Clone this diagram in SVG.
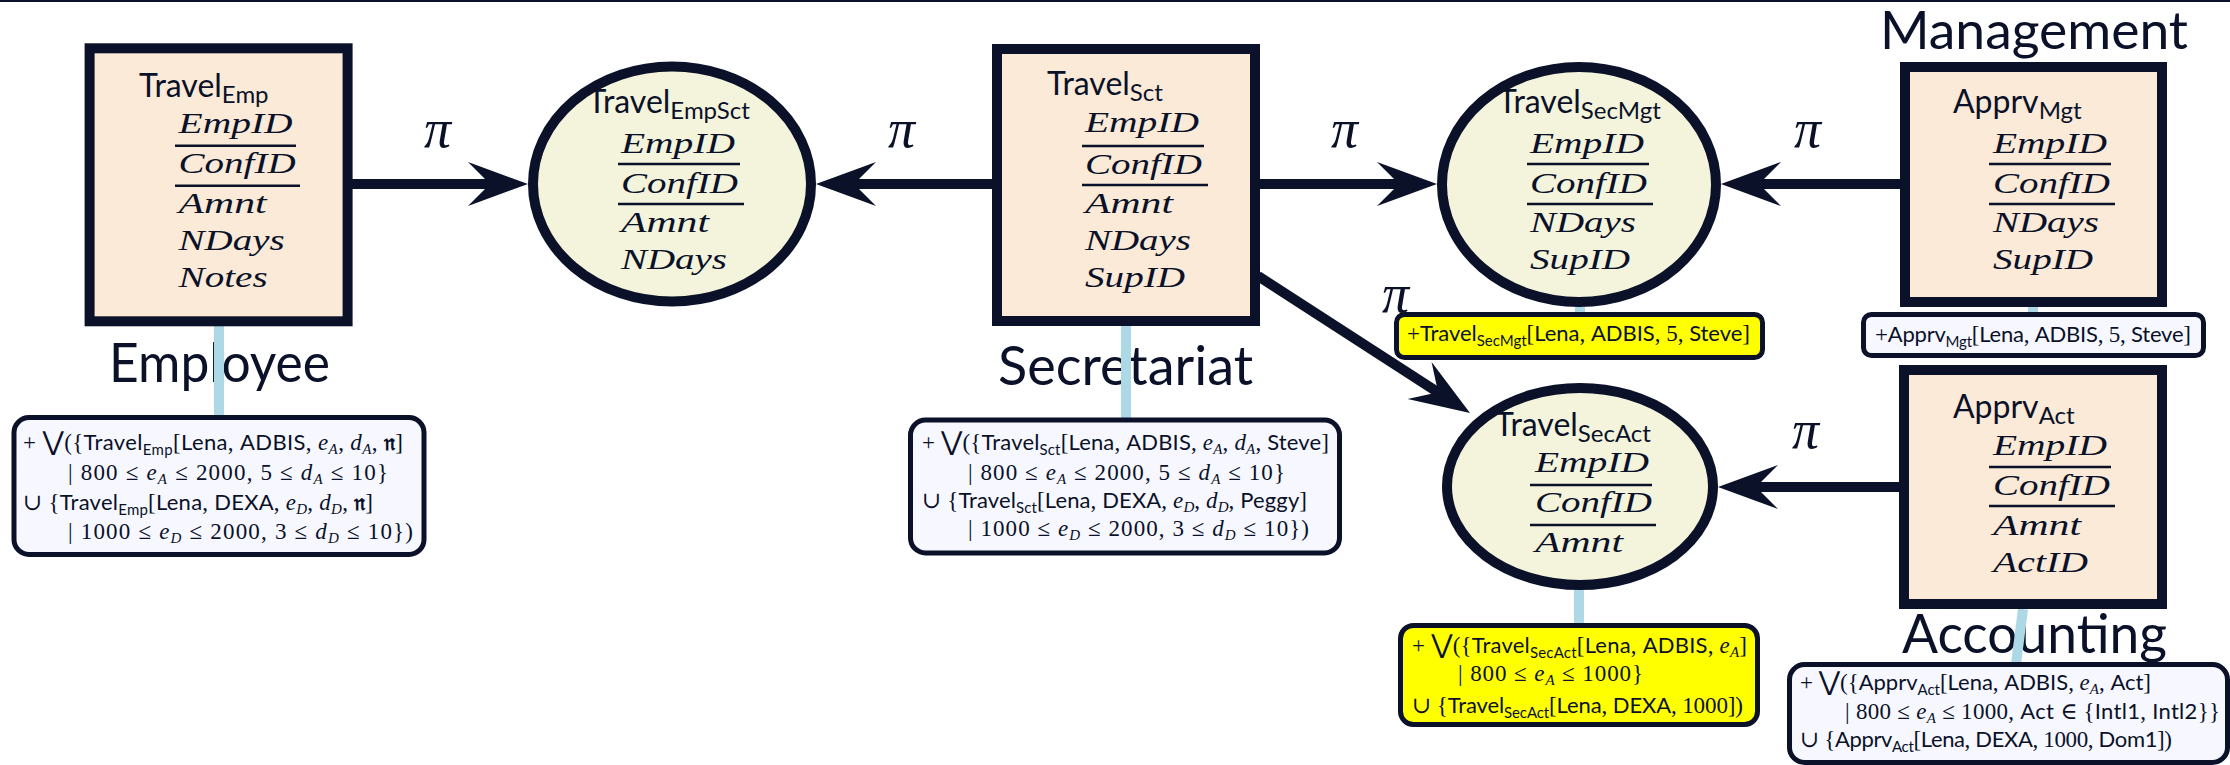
<svg xmlns="http://www.w3.org/2000/svg" width="2230" height="765" viewBox="0 0 2230 765">
<defs>
<style>
text{fill:#0A1128}
.box{fill:#FAEAD7;stroke:#0A1128;stroke-width:10}
.ell{fill:#F4F4DC;stroke:#0A1128;stroke-width:10}
.ab{fill:#F7F8FF;stroke:#0A1128;stroke-width:5}
.yb{fill:#FFFF00;stroke:#0A1128;stroke-width:5}
.ul{stroke:#0A1128;stroke-width:2.5}
.arr{stroke:#0A1128;stroke-width:10;fill:none}
.blue{stroke:#ADD8E6;stroke-width:10}
.ttl{font-family:Lato,"Liberation Sans",sans-serif;font-size:32px}
.tsub{font-size:24px}
.at{font-family:"Liberation Serif","DejaVu Serif",serif;font-style:italic;font-size:30px}
.lbl{font-family:Lato,"Liberation Sans",sans-serif;font-size:54px}
.pi{font-family:"Liberation Serif","DejaVu Serif",serif;font-style:italic;font-size:54px}
.an{font-size:22px}
.sf{font-family:Lato,"Liberation Sans",sans-serif}
.rm{font-family:"Liberation Serif","DejaVu Serif",serif;font-size:23px}
.it{font-family:"Liberation Serif","DejaVu Serif",serif;font-style:italic;font-size:23px}
.big{font-family:"DejaVu Sans",sans-serif;font-size:26px}
.fr{font-family:"DejaVu Serif","DejaVu Sans",serif;font-weight:bold}
.sb{font-size:15px}
</style>
<marker id="ah" markerUnits="userSpaceOnUse" markerWidth="62" markerHeight="46" viewBox="0 0 62 46" refX="30" refY="22" orient="auto">
<path d="M0,0 L60,22 L0,44 L22,22 Z" fill="#0A1128"/>
</marker>
</defs>
<rect x="0" y="0" width="2230" height="2" fill="#0A1128"/>

<g id="labels">
<text class="lbl" x="109" y="382" textLength="221" lengthAdjust="spacingAndGlyphs">Employee</text>
<text class="lbl" x="998" y="385" textLength="255" lengthAdjust="spacingAndGlyphs">Secretariat</text>
<text class="lbl" x="1880" y="49" style="font-size:52px" textLength="308" lengthAdjust="spacingAndGlyphs">Management</text>
<text class="lbl" x="1902" y="653" textLength="265" lengthAdjust="spacingAndGlyphs">Accounting</text>
</g>

<g id="connectors">
<line class="blue" x1="219" y1="326" x2="219" y2="417"/>
<line class="blue" x1="1126" y1="326" x2="1126" y2="421"/>
<line class="blue" x1="1580" y1="307" x2="1580" y2="314"/>
<line class="blue" x1="1579" y1="588" x2="1579" y2="625"/>
<line class="blue" x1="2033" y1="307" x2="2033" y2="314"/>
<line class="blue" x1="2023" y1="609" x2="2016" y2="664"/>
<line class="arr" x1="352" y1="184" x2="498" y2="184" marker-end="url(#ah)"/>
<line class="arr" x1="992" y1="184" x2="846" y2="184" marker-end="url(#ah)"/>
<line class="arr" x1="1260" y1="184" x2="1407" y2="184" marker-end="url(#ah)"/>
<line class="arr" x1="1900" y1="184" x2="1751" y2="184" marker-end="url(#ah)"/>
<line class="arr" x1="1899" y1="487" x2="1748" y2="487" marker-end="url(#ah)"/>
<line class="arr" x1="1258" y1="276" x2="1444.8" y2="396.7" marker-end="url(#ah)"/>
<text class="pi" x="424" y="147">π</text>
<text class="pi" x="888" y="147">π</text>
<text class="pi" x="1331" y="147">π</text>
<text class="pi" x="1794" y="147">π</text>
<text class="pi" x="1382" y="312">π</text>
<text class="pi" x="1792" y="448">π</text>
</g>

<g id="travel-emp">
<rect class="box" x="89.6" y="48.3" width="258" height="273"/>
<text class="ttl" x="139" y="97">Travel<tspan class="tsub" dy="6">Emp</tspan></text>
<text class="at" x="178.6" y="133" textLength="114" lengthAdjust="spacingAndGlyphs">EmpID</text>
<line class="ul" x1="175" y1="145.7" x2="296" y2="145.7"/>
<text class="at" x="178.6" y="173" textLength="117" lengthAdjust="spacingAndGlyphs">ConfID</text>
<line class="ul" x1="175" y1="185.7" x2="300" y2="185.7"/>
<text class="at" x="178.6" y="213" textLength="88" lengthAdjust="spacingAndGlyphs">Amnt</text>
<text class="at" x="178.6" y="250" textLength="106" lengthAdjust="spacingAndGlyphs">NDays</text>
<text class="at" x="178.6" y="287" textLength="89" lengthAdjust="spacingAndGlyphs">Notes</text>
</g>

<g id="travel-empsct">
<ellipse class="ell" cx="672" cy="184" rx="139" ry="117.5"/>
<text class="ttl" x="587.5" y="113">Travel<tspan class="tsub" dy="6">EmpSct</tspan></text>
<text class="at" x="621" y="153" textLength="114" lengthAdjust="spacingAndGlyphs">EmpID</text>
<line class="ul" x1="618" y1="164" x2="740" y2="164"/>
<text class="at" x="621" y="193" textLength="117" lengthAdjust="spacingAndGlyphs">ConfID</text>
<line class="ul" x1="618" y1="204" x2="744" y2="204"/>
<text class="at" x="621" y="232" textLength="88" lengthAdjust="spacingAndGlyphs">Amnt</text>
<text class="at" x="621" y="269" textLength="106" lengthAdjust="spacingAndGlyphs">NDays</text>
</g>

<g id="travel-sct">
<rect class="box" x="997" y="49" width="258" height="272"/>
<text class="ttl" x="1047" y="95">Travel<tspan class="tsub" dy="6">Sct</tspan></text>
<text class="at" x="1085" y="132" textLength="114" lengthAdjust="spacingAndGlyphs">EmpID</text>
<line class="ul" x1="1082" y1="146" x2="1204" y2="146"/>
<text class="at" x="1085" y="174" textLength="117" lengthAdjust="spacingAndGlyphs">ConfID</text>
<line class="ul" x1="1082" y1="185" x2="1208" y2="185"/>
<text class="at" x="1085" y="213" textLength="88" lengthAdjust="spacingAndGlyphs">Amnt</text>
<text class="at" x="1085" y="250" textLength="106" lengthAdjust="spacingAndGlyphs">NDays</text>
<text class="at" x="1085" y="287" textLength="100" lengthAdjust="spacingAndGlyphs">SupID</text>
</g>

<g id="travel-secmgt">
<ellipse class="ell" cx="1579" cy="184.5" rx="137" ry="117.5"/>
<text class="ttl" x="1498" y="113">Travel<tspan class="tsub" dy="6">SecMgt</tspan></text>
<text class="at" x="1530" y="153" textLength="114" lengthAdjust="spacingAndGlyphs">EmpID</text>
<line class="ul" x1="1527" y1="164" x2="1649" y2="164"/>
<text class="at" x="1530" y="193" textLength="117" lengthAdjust="spacingAndGlyphs">ConfID</text>
<line class="ul" x1="1527" y1="204" x2="1653" y2="204"/>
<text class="at" x="1530" y="232" textLength="106" lengthAdjust="spacingAndGlyphs">NDays</text>
<text class="at" x="1530" y="269" textLength="100" lengthAdjust="spacingAndGlyphs">SupID</text>
</g>

<g id="travel-secact">
<ellipse class="ell" cx="1580" cy="486.5" rx="133" ry="98.5"/>
<text class="ttl" x="1495" y="436">Travel<tspan class="tsub" dy="6">SecAct</tspan></text>
<text class="at" x="1535" y="472" textLength="114" lengthAdjust="spacingAndGlyphs">EmpID</text>
<line class="ul" x1="1530" y1="485" x2="1652" y2="485"/>
<text class="at" x="1535" y="512" textLength="117" lengthAdjust="spacingAndGlyphs">ConfID</text>
<line class="ul" x1="1530" y1="525" x2="1656" y2="525"/>
<text class="at" x="1535" y="552" textLength="88" lengthAdjust="spacingAndGlyphs">Amnt</text>
</g>

<g id="apprv-mgt">
<rect class="box" x="1905" y="67" width="257" height="235"/>
<text class="ttl" x="1953" y="113">Apprv<tspan class="tsub" dy="6">Mgt</tspan></text>
<text class="at" x="1993" y="153" textLength="114" lengthAdjust="spacingAndGlyphs">EmpID</text>
<line class="ul" x1="1989" y1="164" x2="2111" y2="164"/>
<text class="at" x="1993" y="193" textLength="117" lengthAdjust="spacingAndGlyphs">ConfID</text>
<line class="ul" x1="1989" y1="204" x2="2115" y2="204"/>
<text class="at" x="1993" y="232" textLength="106" lengthAdjust="spacingAndGlyphs">NDays</text>
<text class="at" x="1993" y="269" textLength="100" lengthAdjust="spacingAndGlyphs">SupID</text>
</g>

<g id="apprv-act">
<rect class="box" x="1904" y="370" width="258" height="234"/>
<text class="ttl" x="1953" y="418">Apprv<tspan class="tsub" dy="6">Act</tspan></text>
<text class="at" x="1993" y="455" textLength="114" lengthAdjust="spacingAndGlyphs">EmpID</text>
<line class="ul" x1="1989" y1="467" x2="2111" y2="467"/>
<text class="at" x="1993" y="495" textLength="117" lengthAdjust="spacingAndGlyphs">ConfID</text>
<line class="ul" x1="1989" y1="506" x2="2115" y2="506"/>
<text class="at" x="1993" y="535" textLength="88" lengthAdjust="spacingAndGlyphs">Amnt</text>
<text class="at" x="1993" y="572" textLength="95" lengthAdjust="spacingAndGlyphs">ActID</text>
</g>

<g id="ann-emp">
<rect class="ab" x="14" y="417.5" width="410" height="137" rx="15"/>
<text class="an" x="23" y="450" textLength="380" lengthAdjust="spacing"><tspan class="rm">+ </tspan><tspan class="big">⋁</tspan><tspan class="rm">({</tspan><tspan class="sf">Travel</tspan><tspan class="sf sb" dy="5">Emp</tspan><tspan class="rm" dy="-5">[</tspan><tspan class="sf">Lena</tspan><tspan class="rm">, </tspan><tspan class="sf">ADBIS</tspan><tspan class="rm">, </tspan><tspan class="it">e</tspan><tspan class="it sb" dy="4">A</tspan><tspan class="rm" dy="-4">, </tspan><tspan class="it">d</tspan><tspan class="it sb" dy="4">A</tspan><tspan class="rm" dy="-4">, </tspan><tspan class="fr">𝔫</tspan><tspan class="rm">]</tspan></text>
<text class="an" x="68" y="480" textLength="320" lengthAdjust="spacing"><tspan class="rm">| 800 ≤ </tspan><tspan class="it">e</tspan><tspan class="it sb" dy="4">A</tspan><tspan class="rm" dy="-4"> ≤ 2000, 5 ≤ </tspan><tspan class="it">d</tspan><tspan class="it sb" dy="4">A</tspan><tspan class="rm" dy="-4"> ≤ 10}</tspan></text>
<text class="an" x="23" y="510" textLength="350" lengthAdjust="spacing"><tspan class="rm">∪ {</tspan><tspan class="sf">Travel</tspan><tspan class="sf sb" dy="5">Emp</tspan><tspan class="rm" dy="-5">[</tspan><tspan class="sf">Lena</tspan><tspan class="rm">, </tspan><tspan class="sf">DEXA</tspan><tspan class="rm">, </tspan><tspan class="it">e</tspan><tspan class="it sb" dy="4">D</tspan><tspan class="rm" dy="-4">, </tspan><tspan class="it">d</tspan><tspan class="it sb" dy="4">D</tspan><tspan class="rm" dy="-4">, </tspan><tspan class="fr">𝔫</tspan><tspan class="rm">]</tspan></text>
<text class="an" x="68" y="539" textLength="345" lengthAdjust="spacing"><tspan class="rm">| 1000 ≤ </tspan><tspan class="it">e</tspan><tspan class="it sb" dy="4">D</tspan><tspan class="rm" dy="-4"> ≤ 2000, 3 ≤ </tspan><tspan class="it">d</tspan><tspan class="it sb" dy="4">D</tspan><tspan class="rm" dy="-4"> ≤ 10})</tspan></text>
</g>

<g id="ann-sct">
<rect class="ab" x="910.5" y="420" width="429" height="133" rx="15"/>
<text class="an" x="922" y="450" textLength="407" lengthAdjust="spacing"><tspan class="rm">+ </tspan><tspan class="big">⋁</tspan><tspan class="rm">({</tspan><tspan class="sf">Travel</tspan><tspan class="sf sb" dy="5">Sct</tspan><tspan class="rm" dy="-5">[</tspan><tspan class="sf">Lena</tspan><tspan class="rm">, </tspan><tspan class="sf">ADBIS</tspan><tspan class="rm">, </tspan><tspan class="it">e</tspan><tspan class="it sb" dy="4">A</tspan><tspan class="rm" dy="-4">, </tspan><tspan class="it">d</tspan><tspan class="it sb" dy="4">A</tspan><tspan class="rm" dy="-4">, </tspan><tspan class="sf">Steve</tspan><tspan class="rm">]</tspan></text>
<text class="an" x="968" y="480" textLength="317" lengthAdjust="spacing"><tspan class="rm">| 800 ≤ </tspan><tspan class="it">e</tspan><tspan class="it sb" dy="4">A</tspan><tspan class="rm" dy="-4"> ≤ 2000, 5 ≤ </tspan><tspan class="it">d</tspan><tspan class="it sb" dy="4">A</tspan><tspan class="rm" dy="-4"> ≤ 10}</tspan></text>
<text class="an" x="922" y="508" textLength="385" lengthAdjust="spacing"><tspan class="rm">∪ {</tspan><tspan class="sf">Travel</tspan><tspan class="sf sb" dy="5">Sct</tspan><tspan class="rm" dy="-5">[</tspan><tspan class="sf">Lena</tspan><tspan class="rm">, </tspan><tspan class="sf">DEXA</tspan><tspan class="rm">, </tspan><tspan class="it">e</tspan><tspan class="it sb" dy="4">D</tspan><tspan class="rm" dy="-4">, </tspan><tspan class="it">d</tspan><tspan class="it sb" dy="4">D</tspan><tspan class="rm" dy="-4">, </tspan><tspan class="sf">Peggy</tspan><tspan class="rm">]</tspan></text>
<text class="an" x="968" y="536" textLength="341" lengthAdjust="spacing"><tspan class="rm">| 1000 ≤ </tspan><tspan class="it">e</tspan><tspan class="it sb" dy="4">D</tspan><tspan class="rm" dy="-4"> ≤ 2000, 3 ≤ </tspan><tspan class="it">d</tspan><tspan class="it sb" dy="4">D</tspan><tspan class="rm" dy="-4"> ≤ 10})</tspan></text>
</g>

<g id="ann-secmgt">
<rect class="yb" x="1396.5" y="314.5" width="366" height="43" rx="8"/>
<text class="an" x="1407" y="341" textLength="343" lengthAdjust="spacing"><tspan class="rm">+</tspan><tspan class="sf">Travel</tspan><tspan class="sf sb" dy="5">SecMgt</tspan><tspan class="rm" dy="-5">[</tspan><tspan class="sf">Lena</tspan><tspan class="rm">, </tspan><tspan class="sf">ADBIS</tspan><tspan class="rm">, 5, </tspan><tspan class="sf">Steve</tspan><tspan class="rm">]</tspan></text>
</g>

<g id="ann-mgt">
<rect class="ab" x="1863.5" y="314.5" width="340" height="41" rx="8"/>
<text class="an" x="1875" y="342" textLength="316" lengthAdjust="spacing"><tspan class="rm">+</tspan><tspan class="sf">Apprv</tspan><tspan class="sf sb" dy="5">Mgt</tspan><tspan class="rm" dy="-5">[</tspan><tspan class="sf">Lena</tspan><tspan class="rm">, </tspan><tspan class="sf">ADBIS</tspan><tspan class="rm">, 5, </tspan><tspan class="sf">Steve</tspan><tspan class="rm">]</tspan></text>
</g>

<g id="ann-secact">
<rect class="yb" x="1400.5" y="625.5" width="357" height="99" rx="13"/>
<text class="an" x="1412" y="653" textLength="335" lengthAdjust="spacing"><tspan class="rm">+ </tspan><tspan class="big">⋁</tspan><tspan class="rm">({</tspan><tspan class="sf">Travel</tspan><tspan class="sf sb" dy="5">SecAct</tspan><tspan class="rm" dy="-5">[</tspan><tspan class="sf">Lena</tspan><tspan class="rm">, </tspan><tspan class="sf">ADBIS</tspan><tspan class="rm">, </tspan><tspan class="it">e</tspan><tspan class="it sb" dy="4">A</tspan><tspan class="rm" dy="-4">]</tspan></text>
<text class="an" x="1458" y="681" textLength="185" lengthAdjust="spacing"><tspan class="rm">| 800 ≤ </tspan><tspan class="it">e</tspan><tspan class="it sb" dy="4">A</tspan><tspan class="rm" dy="-4"> ≤ 1000}</tspan></text>
<text class="an" x="1412" y="713" textLength="331" lengthAdjust="spacing"><tspan class="rm">∪ {</tspan><tspan class="sf">Travel</tspan><tspan class="sf sb" dy="5">SecAct</tspan><tspan class="rm" dy="-5">[</tspan><tspan class="sf">Lena</tspan><tspan class="rm">, </tspan><tspan class="sf">DEXA</tspan><tspan class="rm">, 1000])</tspan></text>
</g>

<g id="ann-act">
<rect class="ab" x="1789.5" y="664.5" width="438" height="98" rx="15"/>
<text class="an" x="1800" y="690" textLength="351" lengthAdjust="spacing"><tspan class="rm">+ </tspan><tspan class="big">⋁</tspan><tspan class="rm">({</tspan><tspan class="sf">Apprv</tspan><tspan class="sf sb" dy="5">Act</tspan><tspan class="rm" dy="-5">[</tspan><tspan class="sf">Lena</tspan><tspan class="rm">, </tspan><tspan class="sf">ADBIS</tspan><tspan class="rm">, </tspan><tspan class="it">e</tspan><tspan class="it sb" dy="4">A</tspan><tspan class="rm" dy="-4">, </tspan><tspan class="sf">Act</tspan><tspan class="rm">]</tspan></text>
<text class="an" x="1845" y="719" textLength="375" lengthAdjust="spacing"><tspan class="rm">| 800 ≤ </tspan><tspan class="it">e</tspan><tspan class="it sb" dy="4">A</tspan><tspan class="rm" dy="-4"> ≤ 1000, </tspan><tspan class="sf">Act</tspan><tspan class="rm"> ∈ {</tspan><tspan class="sf">Intl1</tspan><tspan class="rm">, </tspan><tspan class="sf">Intl2</tspan><tspan class="rm">}}</tspan></text>
<text class="an" x="1800" y="747" textLength="372" lengthAdjust="spacing"><tspan class="rm">∪ {</tspan><tspan class="sf">Apprv</tspan><tspan class="sf sb" dy="5">Act</tspan><tspan class="rm" dy="-5">[</tspan><tspan class="sf">Lena</tspan><tspan class="rm">, </tspan><tspan class="sf">DEXA</tspan><tspan class="rm">, 1000, </tspan><tspan class="sf">Dom1</tspan><tspan class="rm">])</tspan></text>
</g>
</svg>
